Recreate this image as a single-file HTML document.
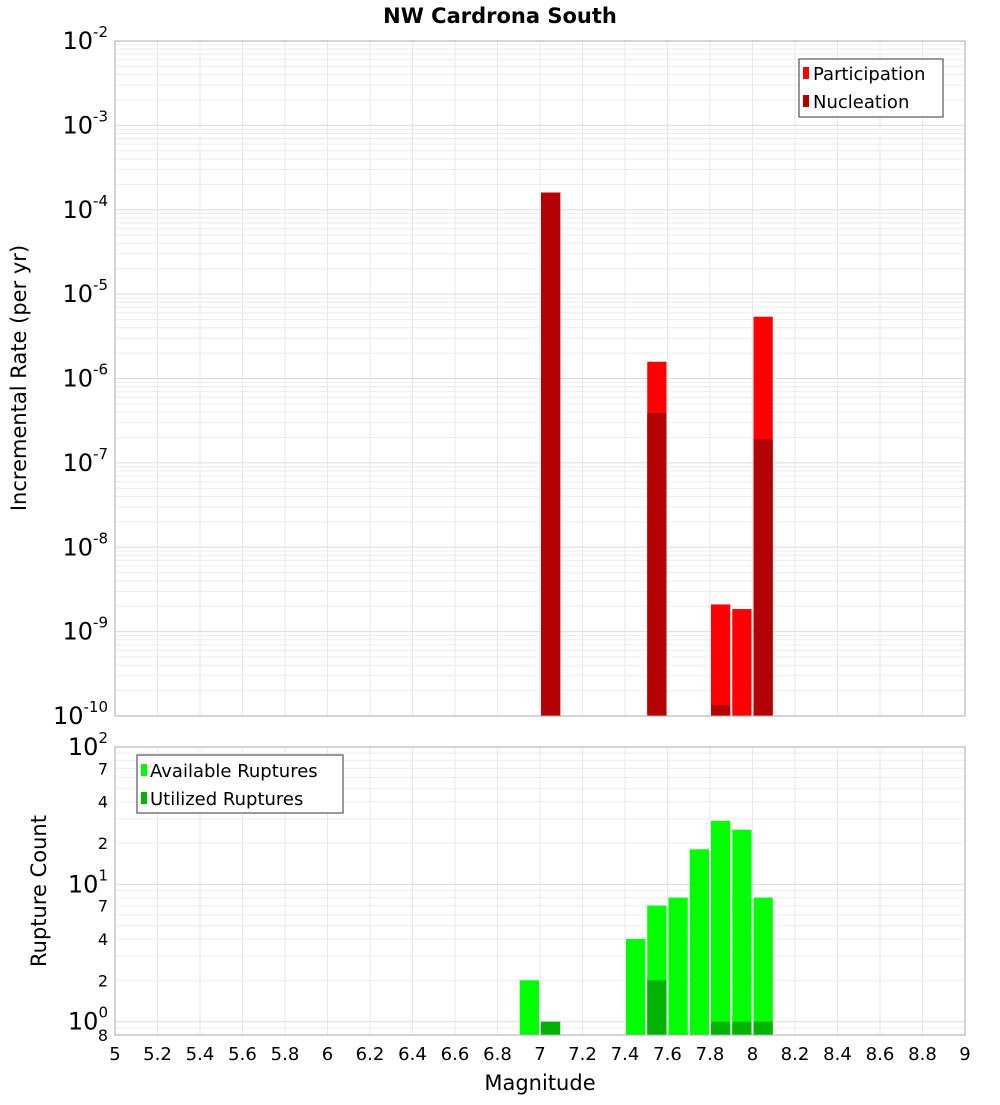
<!DOCTYPE html>
<html><head><meta charset="utf-8"><style>
body{margin:0;background:#fff;font-family:"Liberation Sans","DejaVu Sans",sans-serif}
</style></head><body>
<svg id="c" width="1000" height="1100" xmlns="http://www.w3.org/2000/svg" font-family="DejaVu Sans, Liberation Sans, sans-serif">
<text x="500" y="23" text-anchor="middle" font-size="21" font-weight="bold">NW Cardrona South</text>
<g id="topG"></g><g id="botG"></g><g id="xax"></g>
<text x="540" y="1090" text-anchor="middle" font-size="21">Magnitude</text>
<text transform="translate(26,378) rotate(-90)" text-anchor="middle" font-size="21">Incremental Rate (per yr)</text>
<text transform="translate(46,891) rotate(-90)" text-anchor="middle" font-size="21">Rupture Count</text>
<g>
<rect x="799" y="59" width="144" height="58" fill="#fff" stroke="#333"/>
<rect x="803" y="67" width="6" height="12" fill="#ff0000"/><text x="813" y="80" font-size="18">Participation</text>
<rect x="803" y="95" width="6" height="12" fill="#b30000"/><text x="813" y="108" font-size="18">Nucleation</text>
</g>
<g>
<rect x="137" y="755" width="206" height="58" fill="#fff" stroke="#333"/>
<rect x="141" y="764" width="6" height="12" fill="#00ff00"/><text x="150" y="777" font-size="18">Available Ruptures</text>
<rect x="141" y="792" width="6" height="12" fill="#00b300"/><text x="150" y="805" font-size="18">Utilized Ruptures</text>
</g>
</svg>
<script>
const mags=[6.95,7.05,7.45,7.55,7.65,7.75,7.85,7.95,8.05];
const participation=[0,1.6e-4,0,1.58e-6,0,0,2.1e-9,1.85e-9,5.4e-6];
const nucleation=[0,1.6e-4,0,3.9e-7,0,0,1.35e-10,0,1.9e-7];
const available=[2,0,4,7,8,18,29,25,8];
const utilized=[0,1,0,2,0,0,1,1,1];
const xTicks=[5,5.2,5.4,5.6,5.8,6,6.2,6.4,6.6,6.8,7,7.2,7.4,7.6,7.8,8,8.2,8.4,8.6,8.8,9];
const NS='http://www.w3.org/2000/svg';
const PL=115,PR=965;
const X=m=>PL+(m-5)/4*(PR-PL);
const T0=41,T1=716,yT=v=>T0+(-2-Math.log10(v))/8*(T1-T0);
const B0=747,B1=1035,bMin=Math.log10(0.8),yB=v=>B0+(2-Math.log10(v))/(2-bMin)*(B1-B0);
function mk(p,t,a){const e=document.createElementNS(NS,t);for(const k in a)e.setAttribute(k,a[k]);p.appendChild(e);return e;}
const topG=document.getElementById('topG'),botG=document.getElementById('botG'),xax=document.getElementById('xax');
function grid(g,y0,y1,yf,lo,hi){
  for(const t of xTicks){const l=mk(g,'line',{x1:X(t),x2:X(t),y1:y0,y2:y1,stroke:'#e8e8e8'});
    
    }
  for(let d=lo;d<hi;d++)for(let k=1;k<10;k++){const v=k*Math.pow(10,d);const y=yf(v);if(y<y0||y>y1)continue;
    const l=mk(g,'line',{x1:PL,x2:PR,y1:y,y2:y,stroke:k==1?'#dcdcdc':'#ececec'});
    
    }
}
grid(topG,T0,T1,yT,-10,-2);
grid(botG,B0,B1,yB,-1,2);
function bar(g,m,v,yf,base,col,name){if(!v)return;const x0=X(m-0.05)+1,x1=X(m+0.05)-1,y=yf(v);
  const r=mk(g,'rect',{x:x0,y:y,width:x1-x0,height:base-y,fill:col});
  
  }
mags.forEach((m,i)=>{bar(topG,m,participation[i],yT,T1,'#ff0000','participation-bar');bar(topG,m,nucleation[i],yT,T1,'#b30000','nucleation-bar');
  bar(botG,m,available[i],yB,B1,'#00ff00','available-bar');bar(botG,m,utilized[i],yB,B1,'#00b300','utilized-bar');});
mk(topG,'rect',{x:PL,y:T0,width:PR-PL,height:T1-T0,fill:'none',stroke:'#aaa'});
mk(botG,'rect',{x:PL,y:B0,width:PR-PL,height:B1-B0,fill:'none',stroke:'#aaa'});
for(let d=-2;d>=-10;d--){const t=mk(topG,'text',{x:108,y:yT(Math.pow(10,d))+8,'text-anchor':'end','font-size':24});
  t.innerHTML='10<tspan dy="-12" font-size="15">'+d+'</tspan>';
  
  }
const bl=[[100,'10',2],[70,'7'],[40,'4'],[20,'2'],[10,'10',1],[7,'7'],[4,'4'],[2,'2'],[1,'10',0],[0.8,'8']];
bl.forEach(b=>{const big=b.length>2;const t=mk(botG,'text',{x:108,y:yB(b[0])+(big?8:6),'text-anchor':'end','font-size':big?24:16});
  t.innerHTML=big?b[1]+'<tspan dy="-12" font-size="15">'+b[2]+'</tspan>':b[1];
  
  });
xTicks.forEach(v=>{const t=mk(xax,'text',{x:X(v),y:1060,'text-anchor':'middle','font-size':18});
  t.textContent=String(+v.toFixed(1));
  
  });
</script>
</body></html>
